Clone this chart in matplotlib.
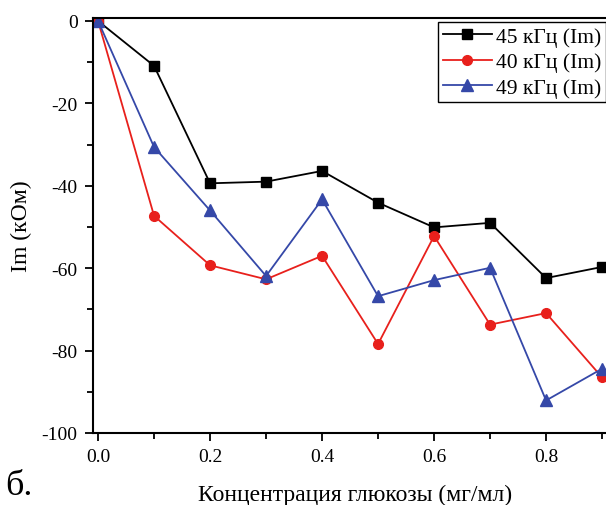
import matplotlib
matplotlib.use("Agg")
import matplotlib.pyplot as plt
from matplotlib.ticker import MultipleLocator

plt.rcParams["font.family"] = ["Liberation Serif", "DejaVu Serif"]
plt.rcParams["axes.unicode_minus"] = False

# концентрация глюкозы, мг/мл
conc = [0.0, 0.1, 0.2, 0.3, 0.4, 0.5, 0.6, 0.7, 0.8, 0.9]
im_45 = [0, -10.9, -39.4, -39.0, -36.4, -44.1, -50.1, -49.0, -62.4, -59.7]
im_40 = [0, -47.3, -59.3, -62.7, -57.0, -78.4, -52.2, -73.7, -70.9, -86.5]
im_49 = [0, -30.6, -46.0, -61.9, -43.3, -66.8, -62.9, -59.9, -92.1, -84.4]

fig = plt.figure(figsize=(6.06, 5.06), dpi=100)
# справа картинка обрезана, поэтому ось доходит до края
ax = fig.add_axes([0.1535, 0.1423, 0.8465, 0.820])

ax.plot(conc, im_45, color="black", marker="s", ms=7, lw=1.3, label="45 кГц (Im)")
ax.plot(conc, im_40, color="#e8201c", marker="o", ms=7, lw=1.3, label="40 кГц (Im)")
ax.plot(conc, im_49, color="#3548a8", marker="^", ms=8, lw=1.3, label="49 кГц (Im)")

ax.set_xlim(-0.009, 0.907)
ax.set_ylim(-100, 0.7)
ax.xaxis.set_major_locator(MultipleLocator(0.2))
ax.xaxis.set_minor_locator(MultipleLocator(0.1))
ax.yaxis.set_major_locator(MultipleLocator(20))
ax.yaxis.set_minor_locator(MultipleLocator(10))
ax.xaxis.set_major_formatter(plt.FuncFormatter(lambda v, p: f"{v:.1f}"))
ax.tick_params(which="both", direction="out", top=False, right=False, labelsize=14, width=1.3)
ax.tick_params(which="major", length=6, pad=5)
ax.tick_params(which="minor", length=4)
ax.spines["right"].set_visible(False)
for s in ax.spines.values():
    s.set_linewidth(1.5)

ax.set_xlabel("Концентрация глюкозы (мг/мл)", fontsize=17)
ax.set_ylabel("Im (кОм)", fontsize=17)
ax.xaxis.set_label_coords(0.51, -0.122)
ax.yaxis.set_label_coords(-0.118, 0.5)

leg = fig.legend(loc="upper right", bbox_to_anchor=(1.0, 0.954), fontsize=15.5,
                 frameon=True, fancybox=False, edgecolor="black", borderpad=0.2,
                 labelspacing=0.25, handlelength=2.3, handletextpad=0.2,
                 borderaxespad=0.0, framealpha=1)
leg.get_frame().set_linewidth(1.0)

fig.text(0.008, 0.022, "б.", fontsize=26)

fig.savefig("out.png", dpi=100)
